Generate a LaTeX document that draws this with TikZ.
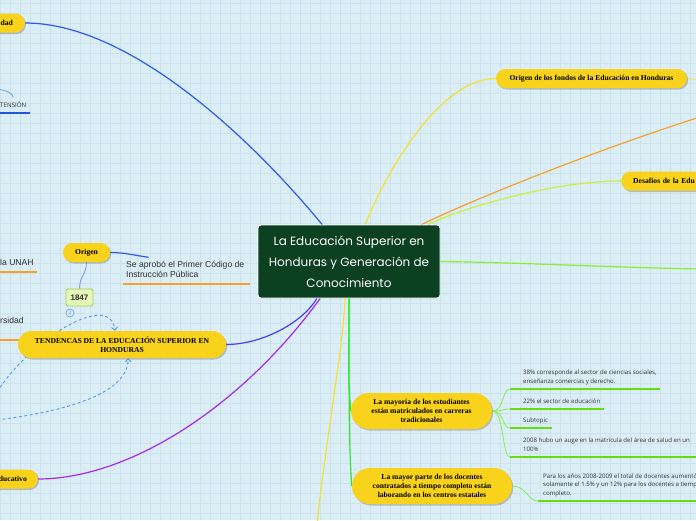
\documentclass[tikz,border=0pt]{standalone}
\usepackage{fontspec}
\setmainfont{Liberation Serif}
\newfontfamily\handfont{Poppins}
\newfontfamily\notefont{Open Sans}
\newfontfamily\labelfont{Liberation Sans}
\usetikzlibrary{arrows.meta, shadows}

\definecolor{bgblue}{HTML}{DBEDF5}
\definecolor{gridblue}{HTML}{CCE2EC}
\definecolor{topicyellow}{HTML}{F9D21C}
\definecolor{centralgreen}{HTML}{0B4020}
\definecolor{lineblue}{HTML}{2F5BEA}
\definecolor{lineindigo}{HTML}{4B3DF2}
\definecolor{linepurple}{HTML}{A52AEF}
\definecolor{lineyellow}{HTML}{F3E331}
\definecolor{lineorange}{HTML}{F7A12A}
\definecolor{linelime}{HTML}{CBF03A}
\definecolor{linegreen}{HTML}{86F02A}
\definecolor{trunkgreen}{HTML}{33E633}
\definecolor{subgreen}{HTML}{88EE55}
\definecolor{ulgreen}{HTML}{66DD11}
\definecolor{ulblue}{HTML}{2255DD}
\definecolor{relblue}{HTML}{5C9CE6}
\definecolor{softblue}{HTML}{6D9EEB}
\definecolor{textgray}{HTML}{333333}
\definecolor{yearfill}{HTML}{E6F5B8}
\definecolor{yearborder}{HTML}{99D25A}

\pgfdeclarelayer{grid}
\pgfdeclarelayer{edges}
\pgfsetlayers{grid,edges,main}

\begin{document}
\begin{tikzpicture}[
    x=1pt, y=-1pt,
    gridline/.style={draw=gridblue, line width=0.5pt},
    central/.style={rectangle, rounded corners=3pt, fill=centralgreen, draw=white, line width=0.8pt, text=white, font=\handfont\fontsize{12}{21}\selectfont, align=center, minimum width=182pt, minimum height=73pt},
    topic/.style={rectangle, fill=topicyellow, font=\bfseries\fontsize{7.6}{9}\selectfont, align=center, inner sep=0pt, minimum height=19pt, rounded corners=9.5pt, drop shadow={shadow xshift=1.2pt, shadow yshift=-1.5pt, fill=black!50, opacity=0.45}},
    subtopic/.style={font=\notefont\fontsize{6.1}{8.5}\selectfont, text=textgray, align=left, anchor=south west, inner xsep=13pt, inner ysep=4pt, text depth=1.5pt},
    note/.style={font=\labelfont\fontsize{8.6}{10}\selectfont, text=textgray, align=left, anchor=south west, inner xsep=0pt, inner ysep=4pt, text depth=2pt},
    yearbox/.style={rectangle, rounded corners=1.5pt, fill=yearfill, draw=yearborder, line width=0.8pt, font=\labelfont\bfseries\fontsize{8}{9}\selectfont, text=textgray, minimum width=27pt, minimum height=17pt, inner sep=0pt},
    badge/.style={circle, draw=softblue, line width=0.6pt, minimum size=8pt, inner sep=0pt, font=\labelfont\fontsize{5}{5}\selectfont, text=softblue},
    conn/.style={line width=1.2pt},
    fan/.style={draw=subgreen, line width=0.8pt},
    underline/.style={line width=1.3pt},
    relation/.style={draw=relblue, line width=0.9pt, dash pattern=on 3pt off 2.5pt, -{Straight Barb[length=3pt, width=6pt]}}
]
\useasboundingbox (0,0) rectangle (696,520);

% Background
\begin{pgfonlayer}{grid}
\fill [bgblue] (0,0) rectangle (696,520);
\foreach \gx in {0,10,...,690} \draw [gridline] (\gx,0) -- (\gx,520);
\foreach \gy in {3,13,...,513} \draw [gridline] (0,\gy) -- (696,\gy);
\end{pgfonlayer}

% Nodes
\node (central) [central] at (349,261.5) {La Educación Superior en\\Honduras y Generación de\\Conocimiento};

\node (dad) [topic, anchor=east, text width=45pt, align=right, inner xsep=12pt] at (25,23) {dad};
\node (tension) [subtopic, inner xsep=0pt, font=\notefont\fontsize{6.2}{7}\selectfont] at (0,113) {TENSIÓN};
\node (unah) [note] at (0,272) {la UNAH};
\node (rsidad) [note, inner ysep=14pt] at (0,340) {rsidad};
\node (origen) [topic, minimum width=47pt] at (86.5,252.5) {Origen};
\node (aprobo) [note, inner xsep=3pt] at (123,284) {Se aprobó el Primer Código de\\Instrucción Pública};
\node (anio) [yearbox] at (79.5,297.5) {1847};
\node (dos) [badge] at (70,313) {2};
\node (tendencias) [topic, minimum width=208pt, minimum height=27pt, rounded corners=13.5pt] at (122,344.5) {TENDENCAS DE LA EDUCACIÓN SUPERIOR EN\\HONDURAS};
\node (educativo) [topic, anchor=east, text width=45pt, align=right, inner xsep=11pt] at (38,479) {ducativo};

\node (fondos) [topic, minimum width=191pt] at (591.5,78.5) {Origen de los fondos de la Educación en Honduras};
\node (desafios) [topic, anchor=west, text width=80pt, align=left, inner xsep=12pt] at (621,181) {Desafíos de la Edu};
\node (mayoria) [topic, minimum width=141pt, minimum height=36pt, rounded corners=18pt] at (421.5,411) {La mayoría de los estudiantes\\están matriculados en carreras\\tradicionales};
\node (docentes) [topic, minimum width=160pt, minimum height=36pt, rounded corners=18pt] at (432,486) {La mayor parte de los docentes\\contratados a tiempo completo están\\laborando en los centros estatales};

\node (sub1) [subtopic] at (510,389) {38\% corresponde al sector de ciencias sociales,\\enseñanza comercias y derecho.};
\node (sub2) [subtopic] at (510,409) {22\% el sector de educación};
\node (sub3) [subtopic] at (510,428) {Subtopic};
\node (sub4) [subtopic] at (510,457) {2008 hubo un auge en la matricula del área de salud en un\\100\%};
\node (subdoc) [subtopic, inner xsep=5pt] at (538,501) {Para los años 2008-2009 el total de docentes aumentó\\solamente el 1.5\% y un 12\% para los docentes a tiempo\\completo.};

% Free ends
\coordinate (fondosEnd) at (700,80);
\coordinate (orangeEnd) at (700,117);
\coordinate (greenEnd) at (700,269);
\coordinate (yellowEnd) at (317,525);
\coordinate (relA) at (-3,392);
\coordinate (relB) at (-3,420);
\coordinate (tensionIn) at (-3,89);

% Connectors
\begin{pgfonlayer}{edges}
\draw [conn, lineblue] (dad.east) .. controls +(105,0) and +(-70,-85) .. (central.126);
\draw [conn, lineyellow] (central.66) .. controls +(15,-40) and +(-60,0) .. (fondos.west);
\draw [conn, lineyellow, opacity=0.5] (fondos.east) -- (fondosEnd);
\draw [conn, lineorange] (central.27) .. controls +(45,-22) and +(-110,35) .. (orangeEnd);
\draw [conn, linelime] (central.25) .. controls +(30,-15) and +(-70,0) .. (desafios.west);
\draw [conn, linegreen] (central.east) .. controls +(80,1) and +(-100,-2) .. (greenEnd);
\draw [conn, trunkgreen] (central.270) .. controls +(0,60) and +(-3,-30) .. (mayoria.west);
\draw [conn, trunkgreen] (central.270) .. controls +(0,100) and +(-3,-40) .. (docentes.west);
\draw [conn, lineyellow] (central.264) .. controls +(-2,50) and +(8,-80) .. (yellowEnd);
\draw [conn, lineindigo] (tendencias.east) .. controls +(35,0) and +(-15,25) .. (central.229);
\draw [conn, linepurple] (educativo.east) .. controls +(90,0) and +(-80,110) .. (central.232);
\draw [softblue, line width=0.8pt] (origen.south) .. controls +(0,12) and +(0,-12) .. (anio.north);
\draw [conn, lineblue] (origen.east) .. controls +(15,0) and +(-15,-2) .. (aprobo.160);
\draw [softblue, line width=0.8pt] (tensionIn) .. controls +(8,1) and +(0,-4) .. (tension.north);
\draw [relation] (relA) .. controls +(33,-52) and +(-5,-41) .. (tendencias.117);
\draw [relation] (relB) .. controls +(63,-8) and +(0,37) .. (tendencias.294);
\foreach \s in {sub1, sub2, sub3, sub4}
  \draw [fan] (mayoria.east) .. controls +(12,0) and +(-8,0) .. (\s.south west);
\draw [fan] (docentes.east) .. controls +(14,0) and +(-10,0) .. (subdoc.south west);
\foreach \n/\len/\col in {tension/30/ulblue, unah/37/lineorange, rsidad/50/lineorange, aprobo/127/lineorange, sub1/150/ulgreen, sub2/94/ulgreen, sub3/42/ulgreen, sub4/190/ulgreen, subdoc/165/ulgreen}
  \draw [underline, \col] (\n.south west) -- +(\len,0);
\end{pgfonlayer}

\end{tikzpicture}
\end{document}
